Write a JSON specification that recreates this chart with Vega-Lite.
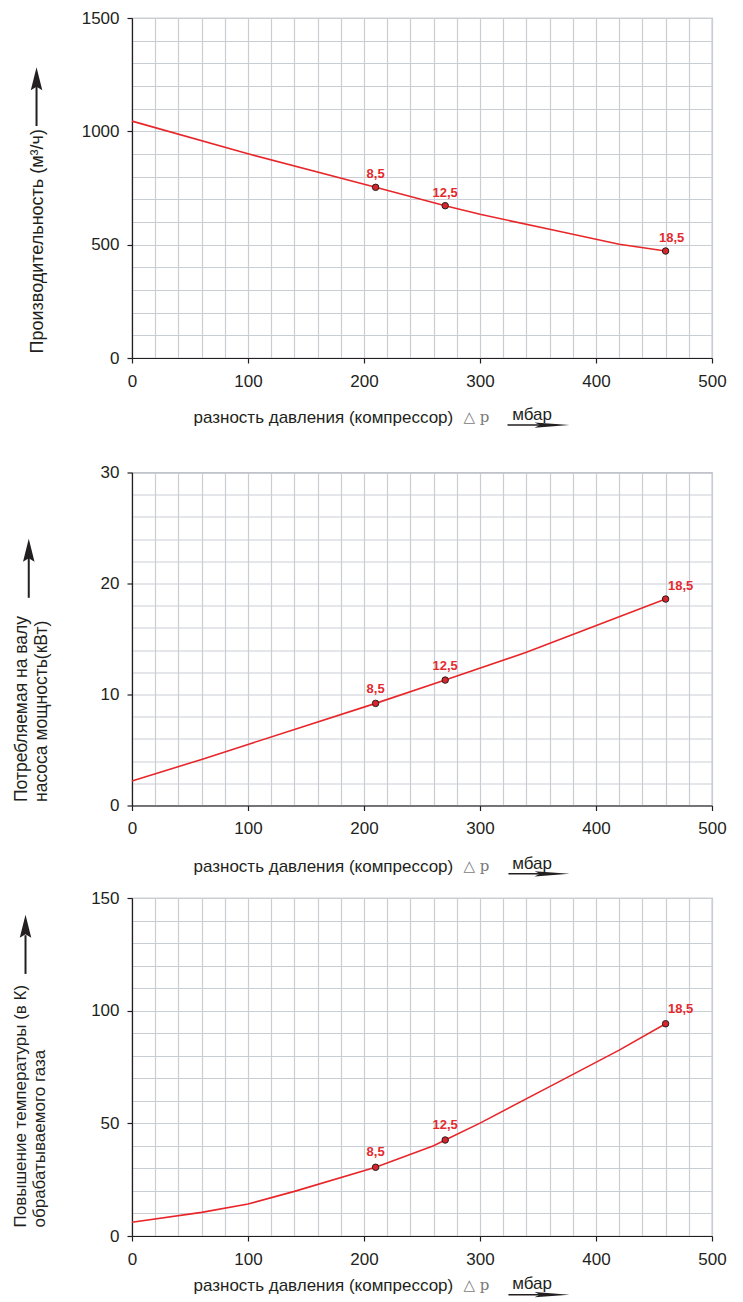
{
  "$schema": "https://vega.github.io/schema/vega-lite/v6.json",
  "background": "white",
  "padding": {"left": 10, "top": 8, "right": 5, "bottom": 5},
  "spacing": 10.5,
  "config": {
    "font": "Liberation Sans",
    "view": {"stroke": "#9fa4ad", "strokeWidth": 1.2},
    "axis": {
      "labelFont": "Liberation Sans",
      "labelFontSize": 17,
      "labelColor": "#231f20",
      "titleFont": "Liberation Sans",
      "titleFontSize": 17,
      "titleFontWeight": "normal",
      "titleColor": "#231f20",
      "domainColor": "#231f20",
      "domainWidth": 1.2,
      "tickColor": "#231f20",
      "tickWidth": 1.2,
      "tickSize": 5,
      "gridColor": "#c9cdd4",
      "gridWidth": 1.2,
      "format": "d",
      "labelOverlap": false,
      "labelFlush": false,
      "labelBound": false
    },
    "axisX": {"labelPadding": 10, "titleAlign": "left", "titleBaseline": "alphabetic", "titleX": 61},
    "axisY": {"labelPadding": 8, "titleAlign": "left", "titleBaseline": "alphabetic", "titleAngle": -90},
    "text": {"font": "Liberation Sans"}
  },
  "datasets": {
    "perf": [
      {"dp": 0, "v": 1045},
      {"dp": 100, "v": 901},
      {"dp": 210, "v": 753, "label": "8,5"},
      {"dp": 270, "v": 672, "label": "12,5"},
      {"dp": 300, "v": 634},
      {"dp": 360, "v": 568},
      {"dp": 420, "v": 502},
      {"dp": 460, "v": 472, "label": "18,5"}
    ],
    "power": [
      {"dp": 0, "v": 2.2},
      {"dp": 60, "v": 4.15},
      {"dp": 100, "v": 5.5},
      {"dp": 210, "v": 9.2, "label": "8,5"},
      {"dp": 270, "v": 11.3, "label": "12,5"},
      {"dp": 340, "v": 13.8},
      {"dp": 460, "v": 18.6, "label": "18,5"}
    ],
    "temp": [
      {"dp": 0, "v": 6.1},
      {"dp": 60, "v": 10.5},
      {"dp": 100, "v": 14.2},
      {"dp": 140, "v": 19.8},
      {"dp": 210, "v": 30.5, "label": "8,5"},
      {"dp": 260, "v": 40.1},
      {"dp": 270, "v": 42.6, "label": "12,5"},
      {"dp": 300, "v": 50.1},
      {"dp": 360, "v": 66.3},
      {"dp": 420, "v": 82.5},
      {"dp": 460, "v": 94.2, "label": "18,5"}
    ],
    "one": [{"k": 1}]
  },
  "vconcat": [
    {
      "width": 580,
      "height": 340,
      "layer": [
        {
          "data": {"name": "perf"},
          "mark": {"type": "line", "color": "#e8262a", "strokeWidth": 1.6},
          "encoding": {
            "x": {
              "field": "dp", "type": "quantitative",
              "scale": {"domain": [0, 500], "nice": false},
              "axis": {
                "tickCount": 25,
                "labelExpr": "datum.value % 100 === 0 ? datum.label : ''",
                "tickOpacity": {"condition": {"test": "datum.value % 100 === 0", "value": 1}, "value": 0},
                "title": "разность давления (компрессор)",
                "titleY": 64
              }
            },
            "y": {
              "field": "v", "type": "quantitative",
              "scale": {"domain": [0, 1500], "nice": false},
              "axis": {
                "tickCount": 15,
                "labelExpr": "datum.value % 500 === 0 ? datum.label : ''",
                "tickOpacity": {"condition": {"test": "datum.value % 500 === 0", "value": 1}, "value": 0},
                "title": "Производительность (м³/ч)",
                "titleFontSize": 18,
                "titleX": -89.5,
                "titleY": 335
              }
            }
          }
        },
        {
          "data": {"name": "perf"},
          "transform": [{"filter": "datum.label != null"}],
          "mark": {"type": "point", "filled": true, "fill": "#d7262b", "stroke": "#231f20", "strokeWidth": 1, "size": 42, "opacity": 1},
          "encoding": {"x": {"field": "dp", "type": "quantitative"}, "y": {"field": "v", "type": "quantitative"}}
        },
        {
          "data": {"name": "perf"},
          "transform": [{"filter": "datum.label != null && datum.label != '18,5'"}],
          "mark": {"type": "text", "color": "#e42a2e", "fontSize": 13, "fontWeight": "bold", "baseline": "alphabetic", "dy": -9},
          "encoding": {"x": {"field": "dp", "type": "quantitative"}, "y": {"field": "v", "type": "quantitative"}, "text": {"field": "label"}}
        },
        {
          "data": {"name": "perf"},
          "transform": [{"filter": "datum.label == '18,5'"}],
          "mark": {"type": "text", "color": "#e42a2e", "fontSize": 13, "fontWeight": "bold", "baseline": "alphabetic", "dy": -9, "dx": 6},
          "encoding": {"x": {"field": "dp", "type": "quantitative"}, "y": {"field": "v", "type": "quantitative"}, "text": {"field": "label"}}
        },
        {
          "data": {"name": "one"},
          "mark": {"type": "rule", "color": "#231f20", "strokeWidth": 2},
          "encoding": {"x": {"datum": -82.3}, "y": {"datum": 1023.5}, "y2": {"datum": 1215}}
        },
        {
          "data": {"name": "one"},
          "mark": {"type": "point", "filled": true, "color": "#231f20", "opacity": 1, "size": 529, "shape": "M 0 -1 L 0.5 1 L 0 0.7 L -0.5 1 Z"},
          "encoding": {"x": {"datum": -82.3}, "y": {"datum": 1232}}
        },
        {
          "data": {"name": "one"},
          "mark": {"type": "text", "text": "△ p", "font": "DejaVu Serif", "fontSize": 15, "color": "#7a7a7a", "align": "left", "baseline": "alphabetic"},
          "encoding": {"x": {"datum": 285.8}, "y": {"datum": -282}}
        },
        {
          "data": {"name": "one"},
          "mark": {"type": "text", "text": "мбар", "fontSize": 17, "color": "#231f20", "align": "left", "baseline": "alphabetic"},
          "encoding": {"x": {"datum": 327.8}, "y": {"datum": -275}}
        },
        {
          "data": {"name": "one"},
          "mark": {"type": "rule", "color": "#231f20", "strokeWidth": 1.6},
          "encoding": {"x": {"datum": 323.7}, "x2": {"datum": 356}, "y": {"datum": -295.6}}
        },
        {
          "data": {"name": "one"},
          "mark": {"type": "point", "filled": true, "color": "#231f20", "opacity": 1, "size": 1225, "shape": "M 1 0 L -1 -0.15 L -0.7 0 L -1 0.15 Z"},
          "encoding": {"x": {"datum": 362.1}, "y": {"datum": -295.6}}
        }
      ]
    },
    {
      "width": 580,
      "height": 333,
      "title": {"text": " ", "fontSize": 2, "offset": 20.5},
      "layer": [
        {
          "data": {"name": "power"},
          "mark": {"type": "line", "color": "#e8262a", "strokeWidth": 1.6},
          "encoding": {
            "x": {
              "field": "dp", "type": "quantitative",
              "scale": {"domain": [0, 500], "nice": false},
              "axis": {
                "tickCount": 25,
                "labelExpr": "datum.value % 100 === 0 ? datum.label : ''",
                "tickOpacity": {"condition": {"test": "datum.value % 100 === 0", "value": 1}, "value": 0},
                "title": "разность давления (компрессор)",
                "titleY": 65.7
              }
            },
            "y": {
              "field": "v", "type": "quantitative",
              "scale": {"domain": [0, 30], "nice": false},
              "axis": {
                "tickCount": 15,
                "labelExpr": "datum.value % 10 === 0 ? datum.label : ''",
                "tickOpacity": {"condition": {"test": "datum.value % 10 === 0", "value": 1}, "value": 0},
                "title": ["Потребляемая на валу", "насоса мощность(кВт)"],
                "titleFontSize": 17.5,
                "titleLineHeight": 20,
                "titleX": -105.8,
                "titleY": 329
              }
            }
          }
        },
        {
          "data": {"name": "power"},
          "transform": [{"filter": "datum.label != null"}],
          "mark": {"type": "point", "filled": true, "fill": "#d7262b", "stroke": "#231f20", "strokeWidth": 1, "size": 42, "opacity": 1},
          "encoding": {"x": {"field": "dp", "type": "quantitative"}, "y": {"field": "v", "type": "quantitative"}}
        },
        {
          "data": {"name": "power"},
          "transform": [{"filter": "datum.label != null && datum.label != '18,5'"}],
          "mark": {"type": "text", "color": "#e42a2e", "fontSize": 13, "fontWeight": "bold", "baseline": "alphabetic", "dy": -10},
          "encoding": {"x": {"field": "dp", "type": "quantitative"}, "y": {"field": "v", "type": "quantitative"}, "text": {"field": "label"}}
        },
        {
          "data": {"name": "power"},
          "transform": [{"filter": "datum.label == '18,5'"}],
          "mark": {"type": "text", "color": "#e42a2e", "fontSize": 13, "fontWeight": "bold", "baseline": "alphabetic", "dy": -9, "dx": 15},
          "encoding": {"x": {"field": "dp", "type": "quantitative"}, "y": {"field": "v", "type": "quantitative"}, "text": {"field": "label"}}
        },
        {
          "data": {"name": "one"},
          "mark": {"type": "rule", "color": "#231f20", "strokeWidth": 2},
          "encoding": {"x": {"datum": -89}, "y": {"datum": 18.71}, "y2": {"datum": 22.4}}
        },
        {
          "data": {"name": "one"},
          "mark": {"type": "point", "filled": true, "color": "#231f20", "opacity": 1, "size": 529, "shape": "M 0 -1 L 0.5 1 L 0 0.7 L -0.5 1 Z"},
          "encoding": {"x": {"datum": -89}, "y": {"datum": 22.99}}
        },
        {
          "data": {"name": "one"},
          "mark": {"type": "text", "text": "△ p", "font": "DejaVu Serif", "fontSize": 15, "color": "#7a7a7a", "align": "left", "baseline": "alphabetic"},
          "encoding": {"x": {"datum": 285.8}, "y": {"datum": -5.92}}
        },
        {
          "data": {"name": "one"},
          "mark": {"type": "text", "text": "мбар", "fontSize": 17, "color": "#231f20", "align": "left", "baseline": "alphabetic"},
          "encoding": {"x": {"datum": 327.8}, "y": {"datum": -5.7}}
        },
        {
          "data": {"name": "one"},
          "mark": {"type": "rule", "color": "#231f20", "strokeWidth": 1.6},
          "encoding": {"x": {"datum": 324.5}, "x2": {"datum": 356}, "y": {"datum": -6.15}}
        },
        {
          "data": {"name": "one"},
          "mark": {"type": "point", "filled": true, "color": "#231f20", "opacity": 1, "size": 1225, "shape": "M 1 0 L -1 -0.15 L -0.7 0 L -1 0.15 Z"},
          "encoding": {"x": {"datum": 362.1}, "y": {"datum": -6.15}}
        }
      ]
    },
    {
      "width": 580,
      "height": 338,
      "layer": [
        {
          "data": {"name": "temp"},
          "mark": {"type": "line", "color": "#e8262a", "strokeWidth": 1.6},
          "encoding": {
            "x": {
              "field": "dp", "type": "quantitative",
              "scale": {"domain": [0, 500], "nice": false},
              "axis": {
                "tickCount": 25,
                "labelExpr": "datum.value % 100 === 0 ? datum.label : ''",
                "tickOpacity": {"condition": {"test": "datum.value % 100 === 0", "value": 1}, "value": 0},
                "title": "разность давления (компрессор)",
                "titleY": 54.4
              }
            },
            "y": {
              "field": "v", "type": "quantitative",
              "scale": {"domain": [0, 150], "nice": false},
              "axis": {
                "tickCount": 15,
                "labelExpr": "datum.value % 50 === 0 ? datum.label : ''",
                "tickOpacity": {"condition": {"test": "datum.value % 50 === 0", "value": 1}, "value": 0},
                "title": ["Повышение температуры (в К)", "обрабатываемого газа"],
                "titleLineHeight": 19,
                "titleX": -106.5,
                "titleY": 329
              }
            }
          }
        },
        {
          "data": {"name": "temp"},
          "transform": [{"filter": "datum.label != null"}],
          "mark": {"type": "point", "filled": true, "fill": "#d7262b", "stroke": "#231f20", "strokeWidth": 1, "size": 42, "opacity": 1},
          "encoding": {"x": {"field": "dp", "type": "quantitative"}, "y": {"field": "v", "type": "quantitative"}}
        },
        {
          "data": {"name": "temp"},
          "transform": [{"filter": "datum.label != null && datum.label != '18,5'"}],
          "mark": {"type": "text", "color": "#e42a2e", "fontSize": 13, "fontWeight": "bold", "baseline": "alphabetic", "dy": -11},
          "encoding": {"x": {"field": "dp", "type": "quantitative"}, "y": {"field": "v", "type": "quantitative"}, "text": {"field": "label"}}
        },
        {
          "data": {"name": "temp"},
          "transform": [{"filter": "datum.label == '18,5'"}],
          "mark": {"type": "text", "color": "#e42a2e", "fontSize": 13, "fontWeight": "bold", "baseline": "alphabetic", "dy": -11, "dx": 15},
          "encoding": {"x": {"field": "dp", "type": "quantitative"}, "y": {"field": "v", "type": "quantitative"}, "text": {"field": "label"}}
        },
        {
          "data": {"name": "one"},
          "mark": {"type": "rule", "color": "#231f20", "strokeWidth": 2},
          "encoding": {"x": {"datum": -91.8}, "y": {"datum": 116.3}, "y2": {"datum": 133.5}}
        },
        {
          "data": {"name": "one"},
          "mark": {"type": "point", "filled": true, "color": "#231f20", "opacity": 1, "size": 529, "shape": "M 0 -1 L 0.5 1 L 0 0.7 L -0.5 1 Z"},
          "encoding": {"x": {"datum": -91.8}, "y": {"datum": 137.5}}
        },
        {
          "data": {"name": "one"},
          "mark": {"type": "text", "text": "△ p", "font": "DejaVu Serif", "fontSize": 15, "color": "#7a7a7a", "align": "left", "baseline": "alphabetic"},
          "encoding": {"x": {"datum": 285.8}, "y": {"datum": -24.15}}
        },
        {
          "data": {"name": "one"},
          "mark": {"type": "text", "text": "мбар", "fontSize": 17, "color": "#231f20", "align": "left", "baseline": "alphabetic"},
          "encoding": {"x": {"datum": 327.8}, "y": {"datum": -23.5}}
        },
        {
          "data": {"name": "one"},
          "mark": {"type": "rule", "color": "#231f20", "strokeWidth": 1.6},
          "encoding": {"x": {"datum": 324.5}, "x2": {"datum": 356}, "y": {"datum": -26.05}}
        },
        {
          "data": {"name": "one"},
          "mark": {"type": "point", "filled": true, "color": "#231f20", "opacity": 1, "size": 1225, "shape": "M 1 0 L -1 -0.15 L -0.7 0 L -1 0.15 Z"},
          "encoding": {"x": {"datum": 362.1}, "y": {"datum": -26.05}}
        }
      ]
    }
  ]
}
